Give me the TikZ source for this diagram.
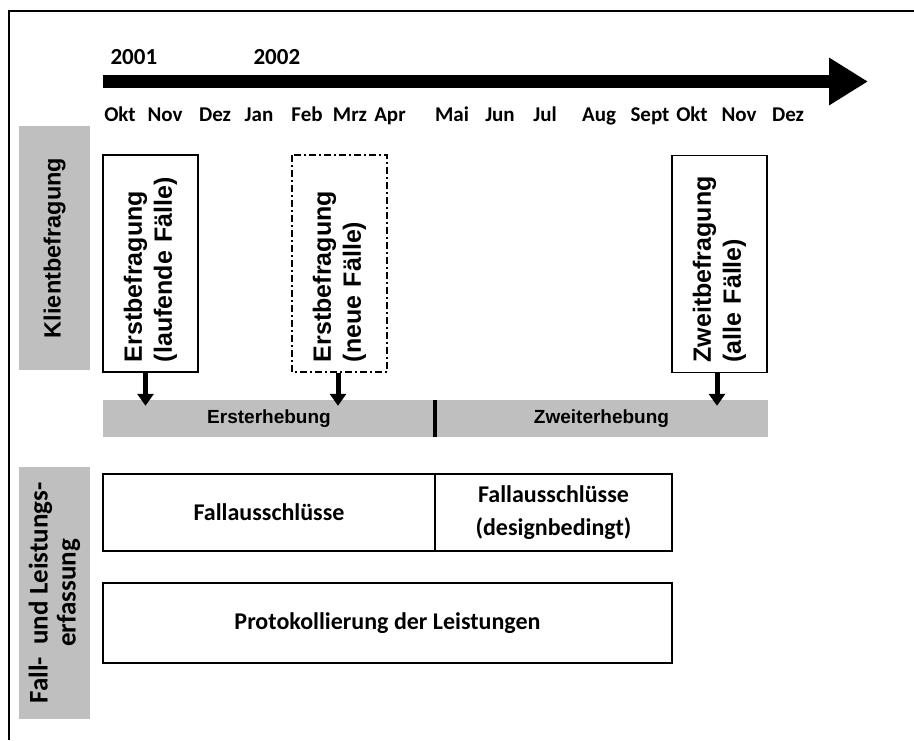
\documentclass[tikz,border=0pt]{standalone}
\usepackage{fontspec}
\setmainfont{Carlito}
\newfontfamily\arialfont{Liberation Sans}
\usetikzlibrary{arrows.meta, positioning}

\begin{document}
\begin{tikzpicture}[x=1pt, y=-1pt, font=\bfseries]

    % Define styles
    \tikzset{
      sidelabel/.style = {rectangle, fill=black!25, rotate=90, align=center, inner sep=0pt, minimum height=71pt},
      survey/.style = {rectangle, draw=black, line width=1.6pt, rotate=90, inner sep=0pt, align=left, minimum width=217pt, minimum height=95pt, text width=197pt, font=\arialfont\fontsize{25}{30}\selectfont\bfseries},
      phase/.style = {rectangle, fill=black!25, minimum height=37pt, inner sep=0pt, font=\arialfont\fontsize{19}{22}\selectfont\bfseries},
      task/.style = {rectangle, draw=black, line width=1.6pt, inner sep=0pt, align=center, font=\fontsize{24}{33}\selectfont\bfseries},
      month/.style = {font=\fontsize{21}{24}\selectfont\bfseries},
      year/.style = {anchor=base west, font=\fontsize{23}{26}\selectfont\bfseries},
      down/.style = {line width=5pt, -{Triangle[width=16pt, length=12pt]}}
    }

    \useasboundingbox (0,0) rectangle (914,740);

    % Frame
    \draw[line width=2.5pt] (9,740) -- (9,11) -- (914,11);

    % Time axis
    \coordinate (tstart) at (103,81.5);
    \coordinate (tend) at (868,81.5);
    \draw[line width=13pt, -{Triangle[width=45pt, length=39pt]}] (tstart) -- (tend);

    \node[year] (y2001) at (107,64) {2001};
    \node[year] (y2002) at (250,64) {2002};

    \foreach \mx/\mname [count=\i] in {120/Okt, 165/Nov, 215/Dez, 259/Jan, 307/Feb, 350/Mrz, 390/Apr, 452/Mai, 500/Jun, 545/Jul, 599/Aug, 650/Sept, 692/Okt, 739/Nov, 788/Dez}
      \node[month, anchor=base] (m\i) at (\mx,121) {\mname};

    % Side labels
    \node[sidelabel, minimum width=244pt, font=\arialfont\fontsize{23.5}{26}\selectfont\bfseries] (klient) at (54.5,248) {Klientbefragung};
    \node[sidelabel, minimum width=252pt, font=\fontsize{27}{28}\selectfont\bfseries] (erfassung) at (54.5,593) {Fall-\ \ und Leistungs-\\erfassung};

    % Surveys
    \node[survey] (erstlauf) at (150.5,263.5) {Erstbefragung\\(laufende Fälle)};
    \node[survey, dash pattern=on 7pt off 3pt on 2pt off 3pt] (erstneu) at (339.5,263.5) {Erstbefragung\\(neue Fälle)};
    \node[survey] (zweit) at (719.5,264) {Zweitbefragung\\(alle Fälle)};

    % Phases
    \node[phase, minimum width=332pt] (ersterh) at (269,418.5) {Ersterhebung};
    \node[phase, minimum width=333pt] (zweiterh) at (601.5,418.5) {Zweiterhebung};
    \draw[line width=4pt] (ersterh.north east) -- (ersterh.south east);

    % Arrows
    \draw[down] ([xshift=-5pt]erstlauf.west) -- ([xshift=-5pt, yshift=-6pt]erstlauf.west |- ersterh.north);
    \draw[down] ([xshift=-1.5pt]erstneu.west) -- ([xshift=-1.5pt, yshift=-6pt]erstneu.west |- ersterh.north);
    \draw[down] ([xshift=-2.5pt]zweit.west) -- ([xshift=-2.5pt, yshift=-6pt]zweit.west |- zweiterh.north);

    % Case records
    \node[task, minimum width=332pt, minimum height=77pt] (ausschl) at (269,512.5) {Fallausschlüsse};
    \node[task, minimum width=237pt, minimum height=77pt] (ausschldes) at (553.5,512.5) {Fallausschlüsse\\(designbedingt)};
    \node[task, minimum width=569pt, minimum height=80pt] (protokoll) at (387.5,623) {Protokollierung der Leistungen};

\end{tikzpicture}
\end{document}
